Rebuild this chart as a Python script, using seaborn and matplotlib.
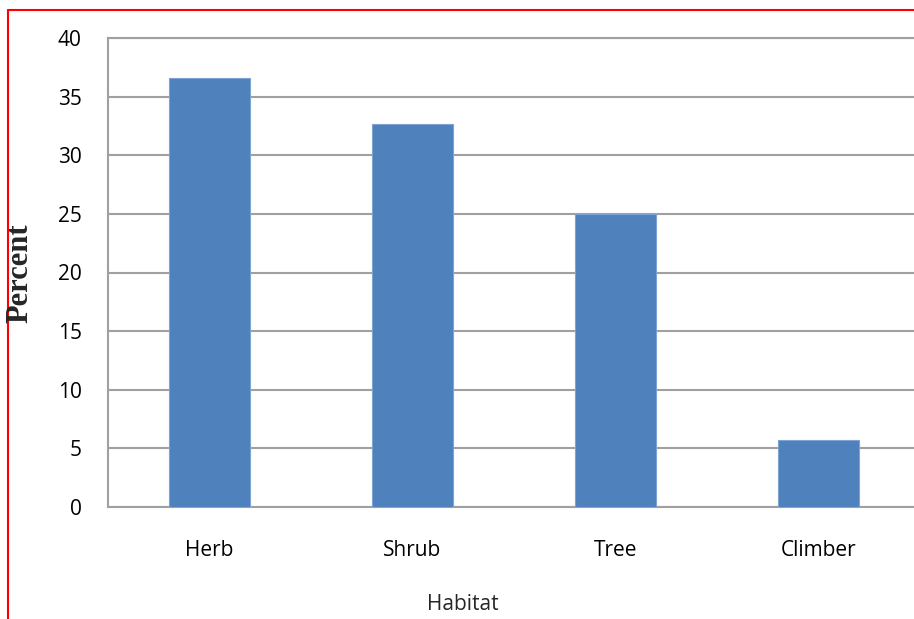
import pandas as pd
import seaborn as sns
import matplotlib.pyplot as plt
from matplotlib.lines import Line2D

# Data
habitats = ['Herb', 'Shrub', 'Tree', 'Climber']
percent = [36.6, 32.7, 25.0, 5.7]
y_ticks = [0, 5, 10, 15, 20, 25, 30, 35, 40]

df = pd.DataFrame({'Habitat': habitats, 'Percent': percent})

sns.set_theme(style='white')
plt.rcParams['font.family'] = ['Open Sans', 'DejaVu Sans']

fig = plt.figure(figsize=(9.14, 6.19), dpi=100)
ax = fig.add_axes([108 / 914, 1 - 507 / 619, 812 / 914, 469 / 619])

sns.barplot(data=df, x='Habitat', y='Percent', color='#4F81BD', saturation=1,
            width=0.4, edgecolor='#7FA3D3', linewidth=0.8, ax=ax, zorder=3)

ax.set_ylim(0, 40)
ax.set_xlim(-0.5, 3.5)
ax.set_yticks(y_ticks)
ax.yaxis.grid(True, color='#A0A0A0', linewidth=1.5, zorder=0)
ax.set_axisbelow(True)
for side in ['left', 'bottom', 'top']:
    ax.spines[side].set_color('#A0A0A0')
    ax.spines[side].set_linewidth(1.5)
ax.spines['right'].set_visible(False)

ax.tick_params(axis='y', labelsize=15, colors='black', pad=19, length=0)
ax.tick_params(axis='x', labelsize=15, colors='black', pad=24, length=0)

ax.set_xlabel('')
ax.set_ylabel('')
fig.text(463 / 914, 1 - 605 / 619, 'Habitat', va='center', ha='center', fontsize=15)
fig.text(20 / 914, 1 - 273 / 619, 'Percent', rotation=90, va='center', ha='center',
         fontsize=22, fontweight='bold', family=['Liberation Serif'])

# red frame at left and top
fig.add_artist(Line2D([8 / 914, 8 / 914], [0, 1 - 10 / 619], color='red', linewidth=1.5))
fig.add_artist(Line2D([8 / 914, 1], [1 - 10 / 619, 1 - 10 / 619], color='red', linewidth=1.5))

fig.savefig('out.png', dpi=100, facecolor='white')
